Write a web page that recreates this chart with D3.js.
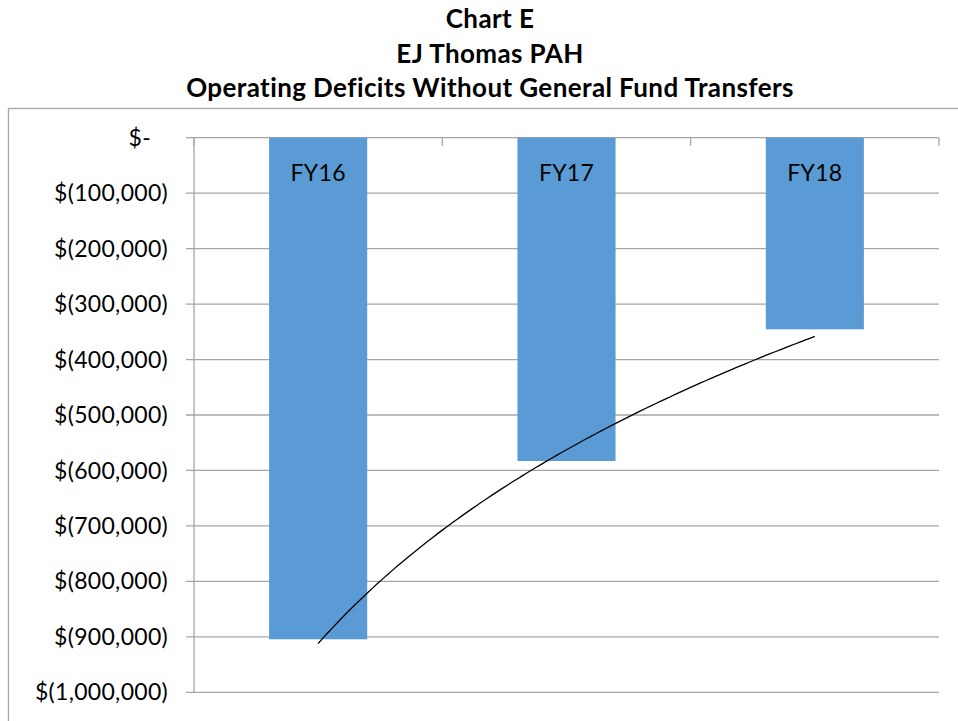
<!DOCTYPE html>
<html>
<head>
<meta charset="utf-8">
<script src="https://cdn.jsdelivr.net/npm/d3@7"></script>
<style>
  body { margin: 0; background: #fff; }
  svg { display: block; font-family: Lato, "Open Sans", sans-serif; }
  .title { font-weight: bold; font-size: 26px; letter-spacing: 0.4px; fill: #000; }
  .tick-label { font-size: 23px; letter-spacing: 0.3px; fill: #000; }
  .bar-label { font-size: 23px; letter-spacing: 0.3px; fill: #000; }
  .grid { stroke: #a6a6a6; stroke-width: 1.3; }
</style>
</head>
<body>
<div id="output"></div>
<script>
const titleLines = ['Chart E', 'EJ Thomas PAH', 'Operating Deficits Without General Fund Transfers'];
const categories = ['FY16', 'FY17', 'FY18'];
const deficits = [-904400, -583000, -345500];
const yTicks = [0, -100000, -200000, -300000, -400000, -500000, -600000, -700000, -800000, -900000, -1000000];

const width = 958, height = 721;
const plot = { left: 194, right: 939, top: 137.7, bottom: 692.3 };

const svg = d3.select('#output')
  .append('svg')
  .attr('width', width)
  .attr('height', height);

// chart border
svg.append('rect')
  .attr('x', 8.5)
  .attr('y', 108.5)
  .attr('width', 980)
  .attr('height', 700)
  .attr('fill', 'none')
  .attr('stroke', '#a6a6a6')
  .attr('stroke-width', 1.3);

// Titles
svg.selectAll('.title')
  .data(titleLines)
  .join('text')
  .attr('class', 'title')
  .attr('x', 490)
  .attr('y', (d, i) => [28, 63, 97][i])
  .attr('text-anchor', 'middle')
  .text(d => d);

const x = d3.scaleBand()
  .domain(categories)
  .range([plot.left, plot.right])
  .padding(0);

const y = d3.scaleLinear()
  .domain([-1000000, 0])
  .range([plot.bottom, plot.top]);

const fmt = v => v === 0 ? '$-' : '$(' + d3.format(',')(-v) + ')';

// Gridlines + y ticks
svg.selectAll('.grid')
  .data(yTicks)
  .join('line')
  .attr('class', 'grid')
  .attr('x1', plot.left - 8)
  .attr('x2', plot.right)
  .attr('y1', d => y(d))
  .attr('y2', d => y(d));

svg.selectAll('.tick-label')
  .data(yTicks)
  .join('text')
  .attr('class', 'tick-label')
  .attr('x', d => d === 0 ? 151 : 168)
  .attr('y', d => y(d))
  .attr('dy', '0.35em')
  .attr('text-anchor', 'end')
  .text(fmt);

// value axis line
svg.append('line')
  .attr('class', 'grid')
  .attr('x1', plot.left).attr('x2', plot.left)
  .attr('y1', plot.top).attr('y2', plot.bottom);

// category ticks at the zero line
const bounds = categories.map(c => x(c)).concat([plot.right]);
svg.selectAll('.cat-tick')
  .data(bounds)
  .join('line')
  .attr('class', 'grid')
  .attr('x1', d => d).attr('x2', d => d)
  .attr('y1', y(0)).attr('y2', y(0) + 8);

// Bars
const barW = x.bandwidth() * 0.395;
svg.selectAll('.bar')
  .data(categories)
  .join('rect')
  .attr('class', 'bar')
  .attr('x', d => x(d) + (x.bandwidth() - barW) / 2)
  .attr('y', y(0))
  .attr('width', barW)
  .attr('height', (d, i) => y(deficits[i]) - y(0))
  .attr('fill', '#5b9bd5');

svg.selectAll('.bar-label')
  .data(categories)
  .join('text')
  .attr('class', 'bar-label')
  .attr('x', d => x(d) + x.bandwidth() / 2)
  .attr('y', y(0) + 35)
  .attr('dy', '0.35em')
  .attr('text-anchor', 'middle')
  .text(d => d);

// Logarithmic trendline (least squares on ln(index))
const lx = categories.map((c, i) => Math.log(i + 1));
const mx = d3.mean(lx), my = d3.mean(deficits);
const b = d3.sum(lx, (v, i) => (v - mx) * (deficits[i] - my)) / d3.sum(lx, v => (v - mx) ** 2);
const a = my - b * mx;
const xi = d3.scaleLinear()
  .domain([1, categories.length])
  .range([x(categories[0]) + x.bandwidth() / 2, x(categories[categories.length - 1]) + x.bandwidth() / 2]);
const trend = d3.range(1, categories.length + 0.001, 0.02).map(t => [xi(t), y(a + b * Math.log(t))]);

svg.append('path')
  .attr('d', d3.line()(trend))
  .attr('fill', 'none')
  .attr('stroke', '#000')
  .attr('stroke-width', 1.3);
</script>
</body>
</html>
